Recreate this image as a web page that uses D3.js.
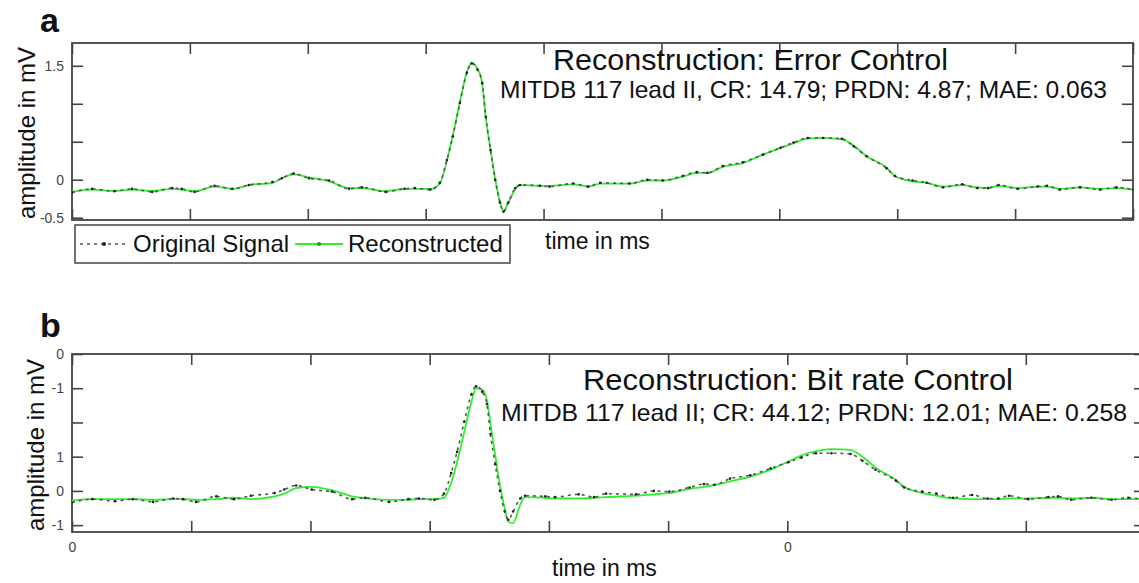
<!DOCTYPE html>
<html>
<head>
<meta charset="utf-8">
<script src="https://cdn.jsdelivr.net/npm/d3@7"></script>
<style>
  body { margin: 0; background: #fff; }
  svg { display: block; font-family: "Liberation Sans", Arial, sans-serif; }
</style>
</head>
<body>
<svg id="chart" width="1139" height="583"></svg>
<script>
// time axis in ms (one beat of MITDB record 117)
const timeMs = [0,17,36,51,68,85,93,104,121,136,150,170,178,188,201,218,235,246,266,282,
  291,304,312,318,323,329,335,339,344,348,351,355,359,363,366,370,376,380,397,405,
  425,438,448,473,488,501,518,530,539,552,569,586,601,612,624,637,653,663,674,691,
  698,713,725,739,755,768,777,786,802,819,827,838,855,872,886,900];

// original signal in mV (same record in both panels)
const originalSignal = [-0.17,-0.12,-0.15,-0.12,-0.16,-0.11,-0.12,-0.16,-0.08,-0.12,
  -0.07,-0.03,0.02,0.08,0.02,-0.01,-0.12,-0.10,-0.16,-0.12,
  -0.11,-0.13,-0.04,0.26,0.57,1.01,1.41,1.53,1.45,1.27,
  0.83,0.39,0,-0.30,-0.42,-0.30,-0.11,-0.07,-0.08,-0.09,
  -0.05,-0.09,-0.04,-0.05,0,-0.01,0.05,0.10,0.09,0.18,
  0.23,0.33,0.42,0.49,0.55,0.55,0.54,0.44,0.31,0.15,
  0.05,-0.01,-0.04,-0.10,-0.06,-0.11,-0.11,-0.07,-0.12,-0.09,
  -0.08,-0.13,-0.10,-0.13,-0.10,-0.13];

// reconstruction with error control
const reconstructedA = [-0.16,-0.13,-0.15,-0.13,-0.15,-0.12,-0.13,-0.15,-0.09,-0.12,
  -0.07,-0.04,0.02,0.07,0.03,-0.02,-0.11,-0.11,-0.15,-0.12,
  -0.12,-0.12,-0.05,0.25,0.58,1.02,1.42,1.54,1.46,1.26,
  0.82,0.40,0.01,-0.29,-0.41,-0.31,-0.12,-0.07,-0.08,-0.08,
  -0.06,-0.09,-0.05,-0.05,-0.01,-0.01,0.04,0.09,0.09,0.17,
  0.22,0.33,0.42,0.48,0.54,0.55,0.53,0.45,0.31,0.16,
  0.05,-0.02,-0.04,-0.09,-0.07,-0.10,-0.11,-0.08,-0.11,-0.09,
  -0.09,-0.12,-0.10,-0.12,-0.11,-0.13];

// reconstruction with bit rate control
const reconstructedB = [-0.14,-0.12,-0.12,-0.12,-0.13,-0.12,-0.12,-0.13,-0.12,-0.10,
  -0.12,-0.08,-0.04,0.04,0.06,0.01,-0.08,-0.11,-0.13,-0.13,
  -0.12,-0.12,-0.10,0.12,0.42,0.86,1.30,1.50,1.48,1.33,
  0.98,0.52,0.08,-0.26,-0.45,-0.47,-0.20,-0.09,-0.10,-0.11,
  -0.11,-0.10,-0.09,-0.07,-0.05,-0.03,0.03,0.06,0.09,0.14,
  0.21,0.31,0.43,0.52,0.58,0.61,0.60,0.50,0.34,0.16,
  0.06,-0.03,-0.07,-0.11,-0.12,-0.12,-0.12,-0.11,-0.11,-0.10,
  -0.10,-0.11,-0.10,-0.12,-0.12,-0.11];

const xTicks = [0,100,200,300,400,500,600,700,800,900];
const xTickLabelsB = ["0","","","","","","0","","",""];
const yTicksA = [-0.5,0,0.5,1,1.5];
const yTickLabelsA = ["-0.5","0","","","1.5"];
const yTicksB = [-0.5,0,0.5,1,1.5,2];
const yTickLabelsB = ["-1","0","1","","-1","0"];

const legendLabels = ["Original Signal", "Reconstructed"];

const svg = d3.select('#chart');
const green = '#2ef02e';
const dark = '#3a3a3a';

const drawPanel = (p) => {
    const x = d3.scaleLinear().domain([0, 900]).range([p.left, p.right]);
    const y = d3.scaleLinear().domain(p.yDomain).range([p.bottom, p.top]);
    const g = svg.append('g');

    const clipId = 'clip' + p.letter;
    svg.append('clipPath').attr('id', clipId)
        .append('rect')
        .attr('x', p.left).attr('y', p.top)
        .attr('width', p.right - p.left).attr('height', p.bottom - p.top);

    // axes, ticks point inward
    const tickLen = 11;
    g.append('g')
        .attr('transform', `translate(${p.left},0)`)
        .call(d3.axisLeft(y).tickValues(p.yTicks)
            .tickFormat((d, i) => p.yLabels[i])
            .tickSizeInner(-tickLen).tickSizeOuter(0).tickPadding(8));
    g.append('g')
        .attr('transform', `translate(${p.right},0)`)
        .call(d3.axisRight(y).tickValues(p.yTicks).tickFormat('')
            .tickSizeInner(-tickLen).tickSizeOuter(0));
    g.append('g')
        .attr('transform', `translate(0,${p.bottom})`)
        .call(d3.axisBottom(x).tickValues(xTicks)
            .tickFormat((d, i) => p.xLabels ? p.xLabels[i] : '')
            .tickSizeInner(-tickLen).tickSizeOuter(0).tickPadding(10));
    g.append('g')
        .attr('transform', `translate(0,${p.top})`)
        .call(d3.axisTop(x).tickValues(xTicks).tickFormat('')
            .tickSizeInner(-tickLen).tickSizeOuter(0));

    g.selectAll('.domain').remove();
    g.selectAll('.tick line').attr('stroke', '#444').attr('stroke-width', 1.6);
    g.selectAll('.tick text').attr('fill', '#444').attr('font-size', 14)
        .attr('font-family', '"Liberation Sans", Arial, sans-serif');

    g.append('rect')
        .attr('x', p.left).attr('y', p.top)
        .attr('width', p.right - p.left).attr('height', p.bottom - p.top)
        .attr('fill', 'none').attr('stroke', '#444').attr('stroke-width', 1.8);

    const line = (vals) => d3.line()
        .x((d, i) => x(timeMs[i]))
        .y(d => y(d))
        .curve(d3.curveMonotoneX)(vals);

    const plot = g.append('g').attr('clip-path', `url(#${clipId})`);
    plot.append('path')
        .attr('d', line(p.recon))
        .attr('fill', 'none').attr('stroke', green).attr('stroke-width', 1.8);
    plot.append('path')
        .attr('d', line(originalSignal))
        .attr('fill', 'none').attr('stroke', '#555').attr('stroke-width', 1.6)
        .attr('stroke-dasharray', '3,4');
    plot.selectAll('circle.orig')
        .data(originalSignal)
        .enter().append('circle')
        .attr('class', 'orig')
        .attr('cx', (d, i) => x(timeMs[i]))
        .attr('cy', d => y(d))
        .attr('r', 1.3)
        .attr('fill', '#222');

    // texts
    svg.append('text').attr('x', 40).attr('y', p.letterY)
        .attr('font-size', 34).attr('font-weight', 'bold').attr('fill', '#111')
        .text(p.letter);
    svg.append('text')
        .attr('transform', `translate(${p.yLabelX},${p.yLabelY}) rotate(-90)`)
        .attr('text-anchor', 'middle').attr('font-size', 24).attr('fill', '#111')
        .text('amplitude in mV');
    svg.append('text').attr('x', p.timeX).attr('y', p.timeY)
        .attr('font-size', 23).attr('fill', '#111')
        .text('time in ms');
    svg.append('text').attr('x', p.titleX).attr('y', p.titleY)
        .attr('font-size', 30).attr('fill', '#111')
        .attr('textLength', p.titleW).attr('lengthAdjust', 'spacingAndGlyphs')
        .text(p.title);
    svg.append('text').attr('x', p.subX).attr('y', p.subY)
        .attr('font-size', 24).attr('fill', '#111')
        .attr('textLength', p.subW).attr('lengthAdjust', 'spacingAndGlyphs')
        .text(p.subtitle);

    return { x, y };
};

drawPanel({
    letter: 'a', letterY: 32,
    left: 72, right: 1133, top: 43, bottom: 220,
    yDomain: [-0.53, 1.80], yTicks: yTicksA, yLabels: yTickLabelsA,
    xLabels: null, recon: reconstructedA,
    yLabelX: 35, yLabelY: 133,
    timeX: 545, timeY: 249,
    title: 'Reconstruction: Error Control', titleX: 553, titleY: 70, titleW: 395,
    subtitle: 'MITDB 117 lead II, CR: 14.79; PRDN: 4.87; MAE: 0.063', subX: 500, subY: 98, subW: 607
});

drawPanel({
    letter: 'b', letterY: 337,
    left: 72, right: 1145, top: 354, bottom: 532,
    yDomain: [-0.6, 2.0], yTicks: yTicksB, yLabels: yTickLabelsB,
    xLabels: xTickLabelsB, recon: reconstructedB,
    yLabelX: 44, yLabelY: 445,
    timeX: 552, timeY: 576,
    title: 'Reconstruction: Bit rate Control', titleX: 583, titleY: 390, titleW: 430,
    subtitle: 'MITDB 117 lead II; CR: 44.12; PRDN: 12.01; MAE: 0.258', subX: 501, subY: 421, subW: 626
});

// legend for panel a
const legend = svg.append('g');
legend.append('rect')
    .attr('x', 75).attr('y', 225).attr('width', 435).attr('height', 38)
    .attr('fill', '#fff').attr('stroke', '#444').attr('stroke-width', 1.5);
const legendItems = [
    { label: legendLabels[0], x0: 80, color: '#555', dash: '3,4', w: 1.6 },
    { label: legendLabels[1], x0: 295, color: green, dash: null, w: 1.8 }
];
legendItems.forEach(item => {
    legend.append('line')
        .attr('x1', item.x0).attr('x2', item.x0 + 48)
        .attr('y1', 244).attr('y2', 244)
        .attr('stroke', item.color).attr('stroke-width', item.w)
        .attr('stroke-dasharray', item.dash);
    legend.append('circle')
        .attr('cx', item.x0 + 24).attr('cy', 244).attr('r', 2)
        .attr('fill', item.color === green ? '#1fa01f' : '#222');
    legend.append('text')
        .attr('x', item.x0 + 53).attr('y', 252)
        .attr('font-size', 24).attr('fill', '#111')
        .text(item.label);
});
</script>
</body>
</html>
